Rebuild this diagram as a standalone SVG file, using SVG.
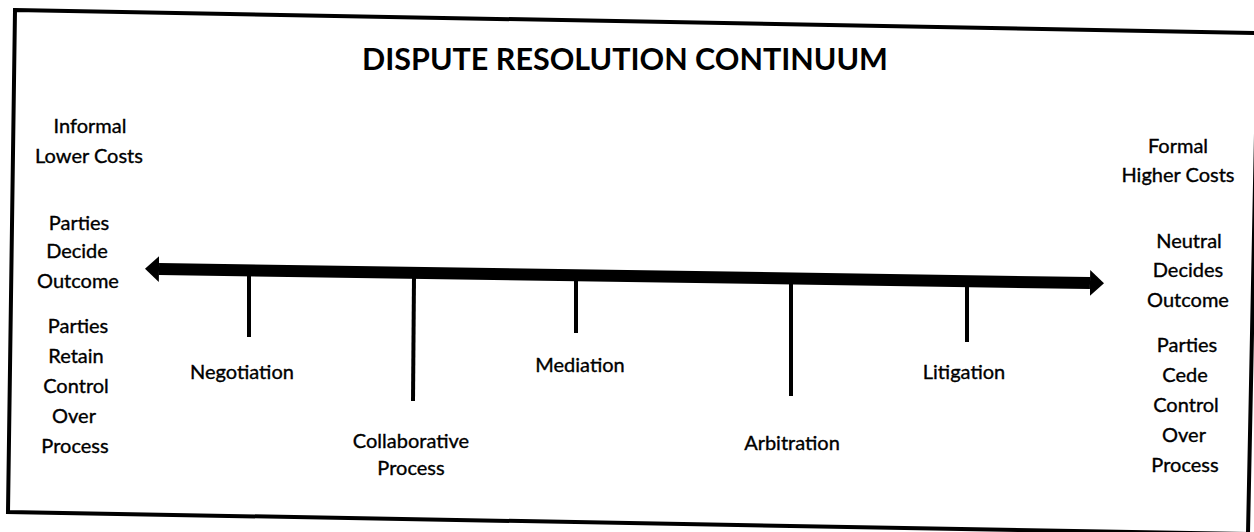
<svg xmlns="http://www.w3.org/2000/svg" width="1254" height="532" viewBox="0 0 1254 532">
<style>
text{font-family:Lato,"Open Sans","Liberation Sans",sans-serif;fill:#000;text-anchor:middle}
.t{font-size:30.5px;font-weight:bold}
.b{font-size:20px;stroke:#000;stroke-width:0.35}
.tick{stroke:#000;stroke-width:4;fill:none}
.frame{stroke:#000;stroke-width:4;fill:#fff}
</style>
<defs>
<marker id="head" markerUnits="userSpaceOnUse" viewBox="0 0 14 26" refX="0" refY="13" markerWidth="14" markerHeight="26" orient="auto-start-reverse">
<path d="M0,0 L14,13 L0,26 Z" fill="#000"/>
</marker>
</defs>
<rect width="1254" height="532" fill="#fff"/>
<polygon class="frame" points="15,10 1258,33 1248,534 8,512"/>
<g id="title"><text class="t" x="625" y="70">DISPUTE RESOLUTION CONTINUUM</text></g>
<g id="left-labels">
<text class="b" x="90" y="133">Informal</text>
<text class="b" x="89" y="163">Lower Costs</text>
<text class="b" x="79" y="230">Parties</text>
<text class="b" x="77" y="258">Decide</text>
<text class="b" x="78" y="288">Outcome</text>
<text class="b" x="78" y="333">Parties</text>
<text class="b" x="76" y="363">Retain</text>
<text class="b" x="76" y="393">Control</text>
<text class="b" x="74" y="423">Over</text>
<text class="b" x="75" y="453">Process</text>
</g>
<g id="right-labels">
<text class="b" x="1178" y="153">Formal</text>
<text class="b" x="1178" y="182">Higher Costs</text>
<text class="b" x="1189" y="248">Neutral</text>
<text class="b" x="1188" y="277">Decides</text>
<text class="b" x="1188" y="307">Outcome</text>
<text class="b" x="1187" y="352">Parties</text>
<text class="b" x="1185" y="382">Cede</text>
<text class="b" x="1186" y="412">Control</text>
<text class="b" x="1184" y="442">Over</text>
<text class="b" x="1185" y="472">Process</text>
</g>
<g id="connectors">
<line x1="159" y1="269" x2="1090" y2="283" stroke="#000" stroke-width="12" marker-start="url(#head)" marker-end="url(#head)"/>
<line class="tick" x1="249" y1="274" x2="249" y2="337"/>
<line class="tick" x1="414" y1="277" x2="413" y2="401"/>
<line class="tick" x1="576" y1="279" x2="576" y2="333"/>
<line class="tick" x1="791" y1="282" x2="791" y2="396"/>
<line class="tick" x1="967" y1="285" x2="967" y2="342"/>
</g>
<g id="negotiation"><text class="b" x="242" y="379">Negotiation</text></g>
<g id="collaborative"><text class="b" x="411" y="448">Collaborative</text><text class="b" x="411" y="475">Process</text></g>
<g id="mediation"><text class="b" x="580" y="372">Mediation</text></g>
<g id="arbitration"><text class="b" x="792" y="450">Arbitration</text></g>
<g id="litigation"><text class="b" x="964" y="379">Litigation</text></g>
</svg>
